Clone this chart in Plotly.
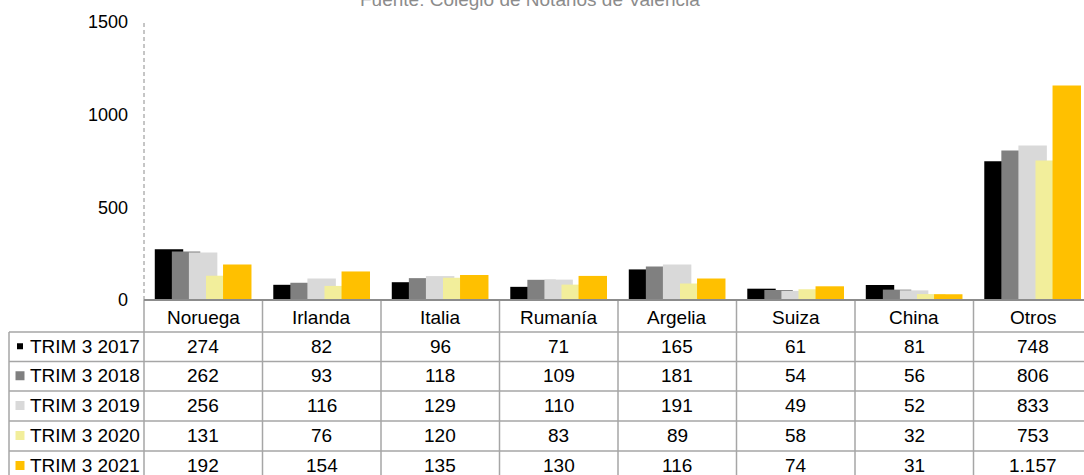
import plotly.graph_objects as go

categories = ["Noruega", "Irlanda", "Italia", "Rumanía", "Argelia", "Suiza", "China", "Otros"]
series_names = ["TRIM 3 2017", "TRIM 3 2018", "TRIM 3 2019", "TRIM 3 2020", "TRIM 3 2021"]
trim_2017 = [274, 82, 96, 71, 165, 61, 81, 748]
trim_2018 = [262, 93, 118, 109, 181, 54, 56, 806]
trim_2019 = [256, 116, 129, 110, 191, 49, 52, 833]
trim_2020 = [131, 76, 120, 83, 89, 58, 32, 753]
trim_2021 = [192, 154, 135, 130, 116, 74, 31, 1157]
series_values = [trim_2017, trim_2018, trim_2019, trim_2020, trim_2021]
colors = ["#000000", "#808080", "#d9d9d9", "#f2ee9b", "#ffc000"]
y_ticks = [0, 500, 1000, 1500]
title_text = "Fuente: Colegio de Notarios de Valencia"

W, H = 1084, 475
L, R, T, B = 144, 0, 22, 175
PW = W - L - R
PH = H - T - B
CAT_W = 118.5  # pixel width of one category


def px(xp):
    return (xp - L) / PW


def py(yp):
    return (H - B - yp) / PH


def fmt(v):
    return f"{v:,}".replace(",", ".")


FONT = "Arial, 'Liberation Sans', sans-serif"

fig = go.Figure()
bar_w = 0.24
stride = 0.144
start = -0.409
for i, (name, vals, col) in enumerate(zip(series_names, series_values, colors)):
    fig.add_trace(go.Bar(
        x=categories, y=vals, name=name,
        marker=dict(color=col, line=dict(width=0)),
        width=bar_w, offset=start + stride * i,
        showlegend=False,
    ))

shapes = []
annotations = []
line_col = "#a6a6a6"

# dashed y axis
shapes.append(dict(type="line", xref="paper", yref="y", x0=0, x1=0, y0=0, y1=1500,
                   line=dict(color="#8c8c8c", width=1, dash="4px,3px")))

row_edges = [332, 361.5, 391, 421, 451, 481]
for k, yy in enumerate(row_edges):
    shapes.append(dict(type="line", xref="paper", yref="paper", x0=px(9), x1=px(W + 20),
                       y0=py(yy), y1=py(yy), line=dict(color=line_col, width=1.5)))
shapes.append(dict(type="line", xref="paper", yref="paper", x0=px(9), x1=px(9),
                   y0=py(332), y1=py(490), line=dict(color=line_col, width=1.5)))
for i in range(len(categories) + 1):
    xb = L + CAT_W * i
    shapes.append(dict(type="line", xref="paper", yref="paper", x0=px(xb), x1=px(xb),
                       y0=py(300), y1=py(490), line=dict(color=line_col, width=1.5)))
shapes.append(dict(type="line", xref="paper", yref="paper", x0=px(L), x1=px(W + 20),
                   y0=py(300), y1=py(300), line=dict(color="#8c8c8c", width=2)))

for i, c in enumerate(categories):
    annotations.append(dict(x=c, xref="x", y=py(317), yref="paper", text=c,
                            showarrow=False, xanchor="center", yanchor="middle",
                            font=dict(family=FONT, size=19, color="#000000")))

for r, (name, vals, col) in enumerate(zip(series_names, series_values, colors)):
    yc = (row_edges[r] + row_edges[r + 1]) / 2 - 0.5
    ks = 6 if r == 0 else 9
    shapes.append(dict(type="rect", xref="paper", yref="paper",
                       x0=px(20 - ks / 2), x1=px(20 + ks / 2),
                       y0=py(yc - ks / 2), y1=py(yc + ks / 2),
                       fillcolor=col, line=dict(width=0)))
    annotations.append(dict(x=px(28), xref="paper", y=py(yc), yref="paper", text=name,
                            showarrow=False, xanchor="left", yanchor="middle",
                            font=dict(family=FONT, size=19, color="#000000")))
    for c, v in zip(categories, vals):
        annotations.append(dict(x=c, xref="x", y=py(yc), yref="paper", text=fmt(v),
                                showarrow=False, xanchor="center", yanchor="middle",
                                font=dict(family=FONT, size=19, color="#000000")))

annotations.append(dict(x=px(529.5), xref="paper", y=py(-1), yref="paper", text=title_text,
                        showarrow=False, xanchor="center", yanchor="middle",
                        font=dict(family=FONT, size=19, color="#8c8c8c")))

fig.update_layout(
    width=W, height=H,
    margin=dict(l=L, r=R, t=T, b=B, pad=0),
    paper_bgcolor="white", plot_bgcolor="white",
    barmode="overlay",
    showlegend=False,
    xaxis=dict(type="category", range=[-0.5, -0.5 + PW / CAT_W], showticklabels=False,
               showgrid=False, zeroline=False, showline=False, fixedrange=True),
    yaxis=dict(range=[0, 1500], tickvals=y_ticks, showgrid=False, zeroline=False,
               showline=False, ticks="", ticklabelstandoff=15,
               tickfont=dict(family=FONT, size=18, color="#000000")),
    shapes=shapes,
    annotations=annotations,
)
fig.write_html("out.html", config={"displayModeBar": False},
               post_script="document.body.style.margin='0';document.body.style.overflow='hidden';")
